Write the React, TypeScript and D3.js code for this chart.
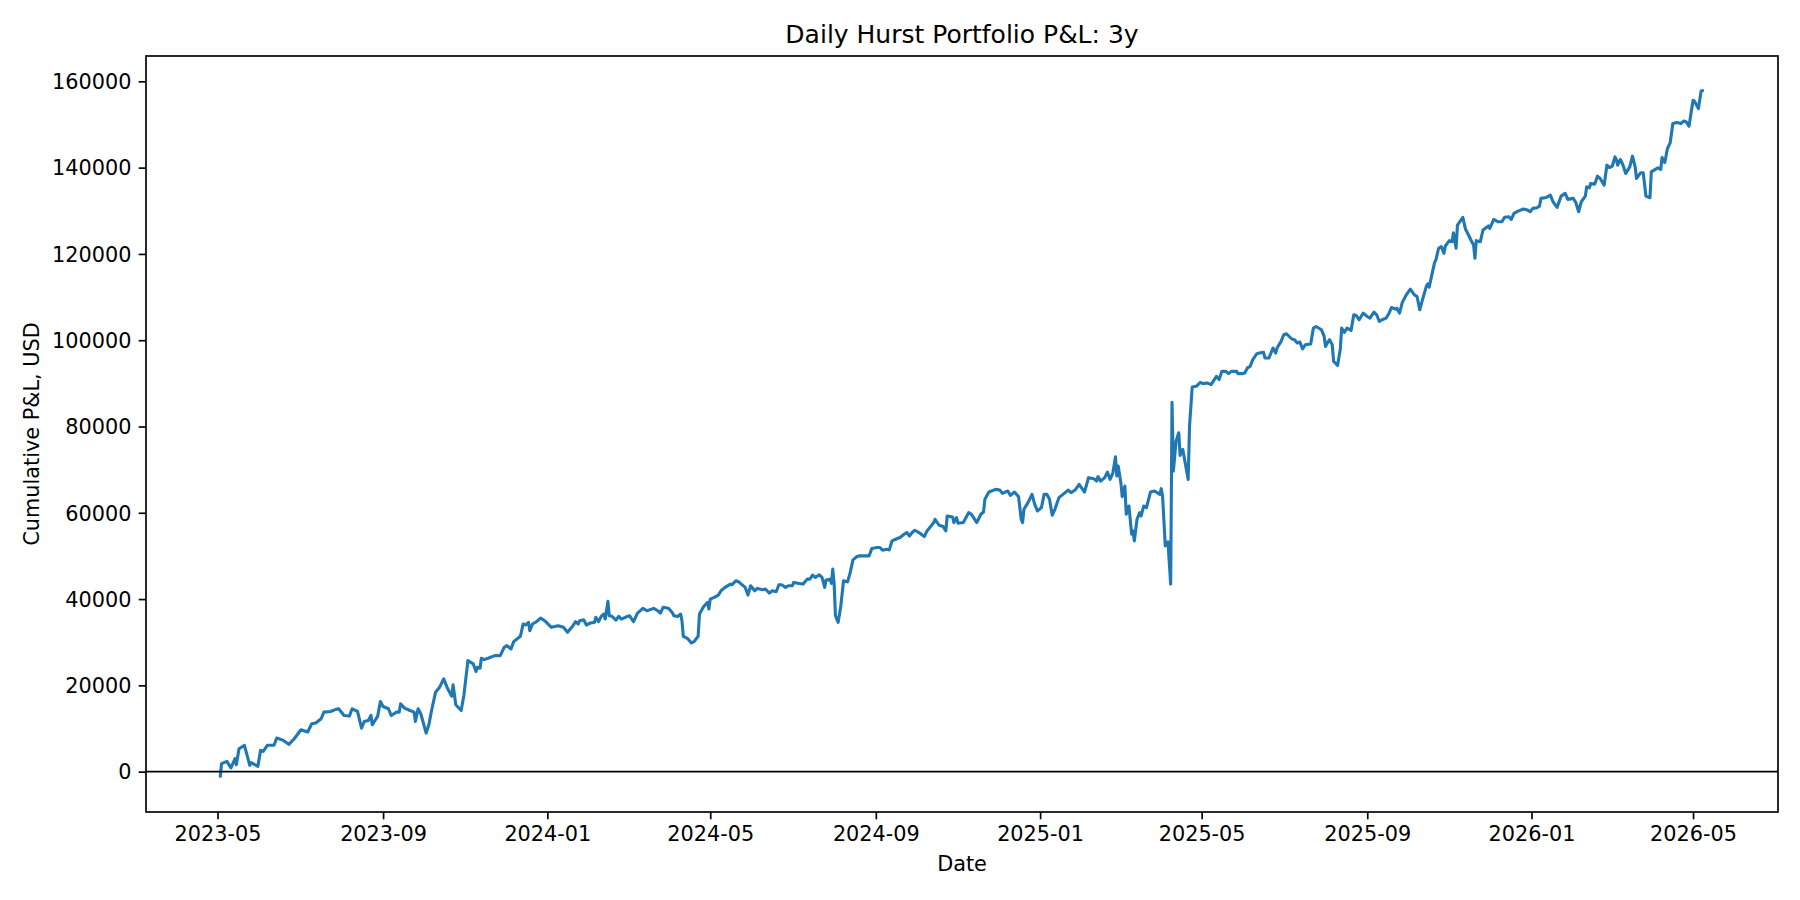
import * as d3 from "d3";
import { useEffect, useRef } from "react";

const title = "Daily Hurst Portfolio P&L: 3y";
const xLabel = "Date";
const yLabel = "Cumulative P&L, USD";
const yTicks = [0, 20000, 40000, 60000, 80000, 100000, 120000, 140000, 160000];

// readings of the cumulative P&L curve (date, USD)
const dates = [
  "2023-05-03", "2023-05-04", "2023-05-08", "2023-05-11", "2023-05-14", "2023-05-15", "2023-05-17", "2023-05-21",
  "2023-05-25", "2023-05-26", "2023-05-31", "2023-06-02", "2023-06-04", "2023-06-07", "2023-06-12", "2023-06-14",
  "2023-06-19", "2023-06-23", "2023-06-27", "2023-07-02", "2023-07-07", "2023-07-10", "2023-07-13", "2023-07-17",
  "2023-07-19", "2023-07-24", "2023-07-27", "2023-07-30", "2023-08-03", "2023-08-07", "2023-08-09", "2023-08-13",
  "2023-08-16", "2023-08-18", "2023-08-21", "2023-08-23", "2023-08-24", "2023-08-28", "2023-08-30", "2023-09-01",
  "2023-09-05", "2023-09-07", "2023-09-11", "2023-09-13", "2023-09-14", "2023-09-17", "2023-09-21", "2023-09-24",
  "2023-09-25", "2023-09-27", "2023-09-29", "2023-10-03", "2023-10-05", "2023-10-07", "2023-10-10", "2023-10-13",
  "2023-10-16", "2023-10-19", "2023-10-22", "2023-10-23", "2023-10-25", "2023-10-29", "2023-10-31", "2023-11-03",
  "2023-11-07", "2023-11-09", "2023-11-10", "2023-11-12", "2023-11-13", "2023-11-15", "2023-11-18", "2023-11-23",
  "2023-11-27", "2023-11-30", "2023-12-02", "2023-12-05", "2023-12-07", "2023-12-12", "2023-12-14", "2023-12-16",
  "2023-12-18", "2023-12-19", "2023-12-21", "2023-12-24", "2023-12-27", "2023-12-30", "2024-01-04", "2024-01-09",
  "2024-01-13", "2024-01-16", "2024-01-20", "2024-01-22", "2024-01-24", "2024-01-25", "2024-01-28", "2024-01-30",
  "2024-02-02", "2024-02-05", "2024-02-06", "2024-02-08", "2024-02-10", "2024-02-12", "2024-02-13", "2024-02-15",
  "2024-02-16", "2024-02-18", "2024-02-21", "2024-02-23", "2024-02-25", "2024-02-28", "2024-03-02", "2024-03-05",
  "2024-03-08", "2024-03-12", "2024-03-15", "2024-03-20", "2024-03-23", "2024-03-25", "2024-03-27", "2024-03-31",
  "2024-04-03", "2024-04-04", "2024-04-07", "2024-04-09", "2024-04-10", "2024-04-11", "2024-04-14", "2024-04-17",
  "2024-04-19", "2024-04-22", "2024-04-23", "2024-04-26", "2024-04-29", "2024-04-30", "2024-05-01", "2024-05-04",
  "2024-05-07", "2024-05-09", "2024-05-12", "2024-05-16", "2024-05-17", "2024-05-20", "2024-05-22", "2024-05-25",
  "2024-05-27", "2024-05-29", "2024-05-31", "2024-06-03", "2024-06-05", "2024-06-09", "2024-06-11", "2024-06-14",
  "2024-06-16", "2024-06-19", "2024-06-21", "2024-06-23", "2024-06-26", "2024-06-28", "2024-07-01", "2024-07-02",
  "2024-07-06", "2024-07-09", "2024-07-12", "2024-07-14", "2024-07-16", "2024-07-18", "2024-07-21", "2024-07-23",
  "2024-07-25", "2024-07-26", "2024-07-29", "2024-07-30", "2024-07-31", "2024-08-01", "2024-08-02", "2024-08-04",
  "2024-08-06", "2024-08-08", "2024-08-11", "2024-08-13", "2024-08-15", "2024-08-18", "2024-08-20", "2024-08-23",
  "2024-08-27", "2024-08-29", "2024-09-02", "2024-09-04", "2024-09-06", "2024-09-09", "2024-09-11", "2024-09-13",
  "2024-09-17", "2024-09-19", "2024-09-22", "2024-09-24", "2024-09-26", "2024-09-28", "2024-09-30", "2024-10-03",
  "2024-10-07", "2024-10-09", "2024-10-12", "2024-10-14", "2024-10-15", "2024-10-18", "2024-10-21", "2024-10-23",
  "2024-10-24", "2024-10-28", "2024-10-29", "2024-10-31", "2024-11-01", "2024-11-05", "2024-11-09", "2024-11-11",
  "2024-11-15", "2024-11-18", "2024-11-20", "2024-11-21", "2024-11-24", "2024-11-29", "2024-12-02", "2024-12-04",
  "2024-12-08", "2024-12-10", "2024-12-13", "2024-12-16", "2024-12-18", "2024-12-19", "2024-12-20", "2024-12-23",
  "2024-12-26", "2024-12-28", "2024-12-30", "2025-01-02", "2025-01-04", "2025-01-06", "2025-01-08", "2025-01-10",
  "2025-01-12", "2025-01-15", "2025-01-18", "2025-01-22", "2025-01-24", "2025-01-27", "2025-01-30", "2025-02-03",
  "2025-02-06", "2025-02-10", "2025-02-12", "2025-02-13", "2025-02-15", "2025-02-18", "2025-02-20", "2025-02-22",
  "2025-02-24", "2025-02-26", "2025-02-27", "2025-02-28", "2025-03-02", "2025-03-03", "2025-03-05", "2025-03-06",
  "2025-03-08", "2025-03-10", "2025-03-11", "2025-03-12", "2025-03-14", "2025-03-16", "2025-03-17", "2025-03-19",
  "2025-03-21", "2025-03-24", "2025-03-27", "2025-03-31", "2025-04-01", "2025-04-02", "2025-04-04", "2025-04-06",
  "2025-04-08", "2025-04-09", "2025-04-10", "2025-04-12", "2025-04-14", "2025-04-15", "2025-04-17", "2025-04-21",
  "2025-04-22", "2025-04-24", "2025-04-27", "2025-04-30", "2025-05-02", "2025-05-05", "2025-05-08", "2025-05-12",
  "2025-05-14", "2025-05-16", "2025-05-19", "2025-05-21", "2025-05-23", "2025-05-27", "2025-05-28", "2025-05-31",
  "2025-06-02", "2025-06-04", "2025-06-06", "2025-06-08", "2025-06-11", "2025-06-13", "2025-06-16", "2025-06-17",
  "2025-06-20", "2025-06-23", "2025-06-25", "2025-06-26", "2025-06-29", "2025-07-01", "2025-07-03", "2025-07-07",
  "2025-07-09", "2025-07-11", "2025-07-13", "2025-07-15", "2025-07-17", "2025-07-21", "2025-07-23", "2025-07-25",
  "2025-07-29", "2025-07-31", "2025-08-01", "2025-08-03", "2025-08-04", "2025-08-06", "2025-08-07", "2025-08-10",
  "2025-08-12", "2025-08-13", "2025-08-15", "2025-08-17", "2025-08-20", "2025-08-22", "2025-08-24", "2025-08-26",
  "2025-08-29", "2025-09-01", "2025-09-03", "2025-09-06", "2025-09-08", "2025-09-10", "2025-09-12", "2025-09-15",
  "2025-09-17", "2025-09-19", "2025-09-22", "2025-09-23", "2025-09-25", "2025-09-27", "2025-09-30", "2025-10-03",
  "2025-10-06", "2025-10-08", "2025-10-10", "2025-10-12", "2025-10-15", "2025-10-16", "2025-10-17", "2025-10-19",
  "2025-10-21", "2025-10-22", "2025-10-24", "2025-10-26", "2025-10-28", "2025-10-29", "2025-11-01", "2025-11-03",
  "2025-11-04", "2025-11-06", "2025-11-07", "2025-11-11", "2025-11-13", "2025-11-14", "2025-11-17", "2025-11-19",
  "2025-11-20", "2025-11-21", "2025-11-24", "2025-11-26", "2025-11-30", "2025-12-01", "2025-12-04", "2025-12-07",
  "2025-12-10", "2025-12-12", "2025-12-15", "2025-12-17", "2025-12-19", "2025-12-22", "2025-12-26", "2025-12-29",
  "2025-12-31", "2026-01-02", "2026-01-05", "2026-01-07", "2026-01-08", "2026-01-12", "2026-01-15", "2026-01-17",
  "2026-01-20", "2026-01-23", "2026-01-26", "2026-01-28", "2026-02-01", "2026-02-03", "2026-02-05", "2026-02-07",
  "2026-02-10", "2026-02-11", "2026-02-13", "2026-02-14", "2026-02-17", "2026-02-19", "2026-02-21", "2026-02-24",
  "2026-02-26", "2026-02-28", "2026-03-02", "2026-03-04", "2026-03-05", "2026-03-06", "2026-03-08", "2026-03-10",
  "2026-03-12", "2026-03-15", "2026-03-17", "2026-03-19", "2026-03-20", "2026-03-23", "2026-03-25", "2026-03-27",
  "2026-03-30", "2026-03-31", "2026-04-02", "2026-04-05", "2026-04-07", "2026-04-08", "2026-04-10", "2026-04-12",
  "2026-04-14", "2026-04-16", "2026-04-19", "2026-04-22", "2026-04-24", "2026-04-26", "2026-04-28", "2026-05-01",
  "2026-05-02", "2026-05-05", "2026-05-07", "2026-05-09",
];

const pnl = [
  -1390, 1850, 2380, 850, 3000, 1600, 5300, 6100,
  1460, 2080, 1230, 4930, 4700, 6100, 6100, 7780,
  7240, 6320, 7630, 9710, 9180, 11100, 11260, 12250,
  13800, 13950, 14330, 14570, 13020, 12880, 14570, 13950,
  10100, 11630, 11860, 13020, 10870, 12880, 16260, 15100,
  14570, 13020, 13800, 13800, 15720, 14730, 14170, 13800,
  11630, 14570, 13410, 8940, 10870, 14170, 18420, 19580,
  21500, 19190, 17500, 20110, 15490, 14170, 17640, 25730,
  24970, 23190, 24200, 23970, 26290, 25970, 26290, 26900,
  26900, 28830, 29200, 28440, 30130, 31370, 34220, 33990,
  34600, 32670, 34220, 34750, 35600, 34980, 33450, 33830,
  33450, 32300, 33830, 34750, 34220, 34980, 35210, 33990,
  34450, 34600, 35770, 34750, 35990, 36530, 35370, 39460,
  36140, 35990, 35140, 35990, 35370, 35770, 36140, 34750,
  36760, 37850, 37300, 37850, 37300, 36760, 38080, 37850,
  36760, 36140, 35990, 36530, 34980, 31370, 30900, 29830,
  30130, 31370, 36530, 38220, 39230, 37690, 40000, 40390,
  40920, 41920, 42700, 43470, 43310, 44230, 44000, 43230,
  42700, 40920, 43080, 41920, 42470, 42150, 42310, 41380,
  41920, 41690, 43310, 43310, 42700, 43080, 43080, 43860,
  43630, 43470, 44620, 44620, 45550, 45010, 45620, 45010,
  42700, 44390, 44620, 43630, 46930, 43700, 36140, 34600,
  38450, 44230, 44000, 46170, 49090, 49870, 50010, 50010,
  50010, 51720, 51950, 51950, 51330, 51560, 51400, 53480,
  54030, 54260, 55030, 55420, 54630, 55420, 55950, 55420,
  54490, 55790, 56950, 57730, 58490, 57110, 56800, 55790,
  59260, 59030, 57730, 58880, 57570, 57730, 60040, 59650,
  57730, 59650, 60180, 63120, 64810, 65430, 65270, 64500,
  65040, 64040, 64810, 63740, 58490, 57730, 60810, 62350,
  64270, 61960, 60420, 61200, 64270, 64270, 63120, 59420,
  60810, 63510, 64270, 65270, 64660, 65270, 66590, 64810,
  68140, 67900, 67350, 68370, 67350, 68140, 69430, 67740,
  69130, 72990, 68510, 70820, 66980, 63740, 66190, 59650,
  61570, 55030, 55790, 53480, 58490, 60040, 59260, 61570,
  61200, 64810, 65040, 64270, 65590, 63740, 52320, 53250,
  43470, 85620, 69660, 76600, 78540, 73290, 74680, 67740,
  80070, 89170, 89320, 90240, 89940, 90100, 89710, 91630,
  90860, 92780, 92780, 92250, 92780, 92780, 92250, 92250,
  92410, 93570, 93940, 95490, 96870, 97030, 97180, 95880,
  95880, 98190, 97030, 98190, 99720, 101270, 101500, 100280,
  100110, 99350, 99580, 97960, 98950, 99110, 102810, 103180,
  102420, 100870, 98560, 99720, 100110, 98950, 95090, 94170,
  97960, 102810, 101800, 102810, 102260, 105890, 105660, 104740,
  106290, 105490, 105120, 106510, 105890, 104340, 104740, 105120,
  106120, 107580, 107200, 107430, 106290, 108730, 110510, 111830,
  110510, 110120, 107050, 109360, 112590, 113050, 112280, 115140,
  117980, 118610, 121310, 121680, 120150, 121840, 123070, 122840,
  124920, 121310, 126690, 128480, 125700, 125150, 123230, 122070,
  118990, 123070, 122840, 125540, 126470, 125930, 128010, 127460,
  127460, 128480, 128620, 128010, 129400, 129930, 130400, 130160,
  129780, 130560, 130700, 131090, 132870, 133100, 133640, 132090,
  130790, 133400, 134030, 132640, 132870, 131850, 129780, 132090,
  133400, 135550, 135320, 136340, 136180, 138030, 137490, 135940,
  140570, 140030, 140330, 142490, 141880, 140570, 141880, 140570,
  138650, 140180, 142650, 140180, 137490, 138800, 138800, 133400,
  133020, 139030, 139410, 139950, 139570, 142340, 141190, 144430,
  145730, 150210, 150440, 150210, 150810, 150580, 149580, 155600,
  155440, 153680, 157750, 157910,
];

const W = 1800;
const H = 900;
const margin = { top: 56, right: 22, bottom: 88, left: 146 };
const font = "DejaVu Sans, Verdana, sans-serif";
const lineColor = "#1f77b4";

export default function App() {
  const svgRef = useRef<SVGSVGElement>(null);

  useEffect(() => {
    const svg = d3.select(svgRef.current);
    svg.selectAll("*").remove();
    const innerW = W - margin.left - margin.right;
    const innerH = H - margin.top - margin.bottom;
    const parse = d3.utcParse("%Y-%m-%d");
    const data = dates.map((d, i) => ({ date: parse(d)!, value: pnl[i] }));

    // matplotlib-like 5% margins
    const [t0, t1] = d3.extent(data, (d) => +d.date) as [number, number];
    const [v0, v1] = d3.extent(data, (d) => d.value) as [number, number];
    const tPad = (t1 - t0) * 0.05;
    const vPad = (v1 - v0) * 0.05;

    const x = d3.scaleUtc().domain([new Date(t0 - tPad), new Date(t1 + tPad)]).range([0, innerW]);
    const y = d3.scaleLinear().domain([v0 - vPad, v1 + vPad]).range([innerH, 0]);

    const g = svg.append("g").attr("transform", `translate(${margin.left},${margin.top})`);

    const gx = g.append("g")
      .attr("transform", `translate(0,${innerH})`)
      .call(
        d3.axisBottom(x)
          .ticks(d3.utcMonth.every(4))
          .tickFormat(d3.utcFormat("%Y-%m") as any)
          .tickSize(7.3)
          .tickPadding(7.3)
      );
    gx.select(".domain").remove();
    gx.selectAll("line").attr("stroke", "#000").attr("stroke-width", 1.67);
    gx.selectAll("text").attr("font-family", font).attr("font-size", 20.8).attr("fill", "#000");

    const gy = g.append("g").call(
      d3.axisLeft(y).tickValues(yTicks).tickFormat(d3.format("d")).tickSize(7.3).tickPadding(7.3)
    );
    gy.select(".domain").remove();
    gy.selectAll("line").attr("stroke", "#000").attr("stroke-width", 1.67);
    gy.selectAll("text").attr("font-family", font).attr("font-size", 20.8).attr("fill", "#000").attr("dy", "0.35em");

    const line = d3.line<{ date: Date; value: number }>()
      .x((d) => x(d.date))
      .y((d) => y(d.value));

    g.append("path")
      .datum(data)
      .attr("fill", "none")
      .attr("stroke", lineColor)
      .attr("stroke-width", 3.1)
      .attr("stroke-linejoin", "round")
      .attr("d", line);

    // zero line
    g.append("line")
      .attr("x1", 0)
      .attr("x2", innerW)
      .attr("y1", y(0))
      .attr("y2", y(0))
      .attr("stroke", "#000")
      .attr("stroke-width", 1.67);

    // frame
    g.append("rect")
      .attr("width", innerW)
      .attr("height", innerH)
      .attr("fill", "none")
      .attr("stroke", "#000")
      .attr("stroke-width", 1.67);

    svg.append("text")
      .attr("x", margin.left + innerW / 2)
      .attr("y", 43.3)
      .attr("text-anchor", "middle")
      .attr("font-family", font)
      .attr("font-size", 25)
      .text(title);

    svg.append("text")
      .attr("x", margin.left + innerW / 2)
      .attr("y", 871)
      .attr("text-anchor", "middle")
      .attr("font-family", font)
      .attr("font-size", 20.8)
      .text(xLabel);

    svg.append("text")
      .attr("transform", `translate(38.5,${margin.top + innerH / 2}) rotate(-90)`)
      .attr("text-anchor", "middle")
      .attr("font-family", font)
      .attr("font-size", 20.8)
      .text(yLabel);
  }, []);

  return (
    <div style={{ position: "fixed", left: 0, top: 0, width: W, height: H, background: "#fff" }}>
      <svg ref={svgRef} width={W} height={H} />
    </div>
  );
}
